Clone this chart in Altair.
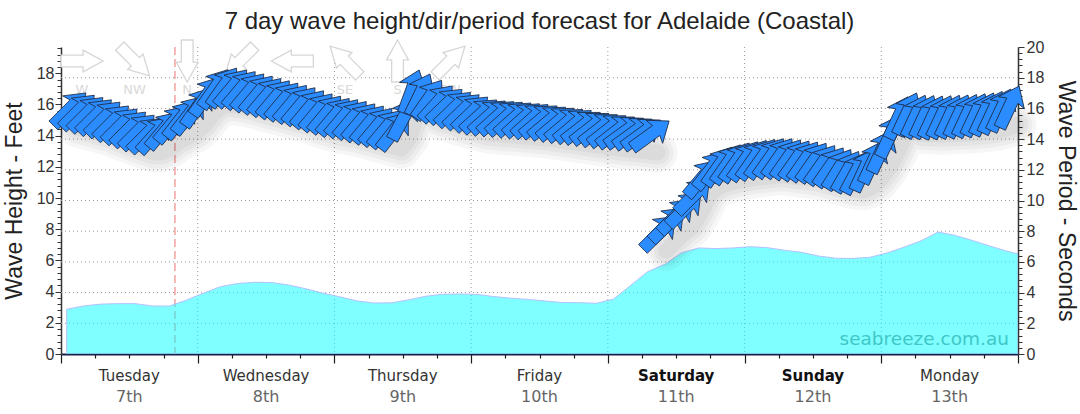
import altair as alt
import pandas as pd

PLOT_W, PLOT_H = 957, 307
FONT = "Liberation Sans"
LABEL_FONT = "DejaVu Sans"

CHART_TITLE = "7 day wave height/dir/period forecast for Adelaide (Coastal)"

# ---- x axis: hours since Tuesday 00:00 ----
day_names = ["Tuesday", "Wednesday", "Thursday", "Friday", "Saturday", "Sunday", "Monday"]
day_dates = ["7th", "8th", "9th", "10th", "11th", "12th", "13th"]
day_bold = [False, False, False, False, True, True, False]
day_noon_hours = [12, 36, 60, 84, 108, 132, 156]
day_boundaries = [24, 48, 72, 96, 120, 144]
now_hour = 20

# ---- wave height (feet), 3-hourly ----
height_hours = [1, 4, 7, 10, 13, 16, 19, 22, 25, 28,
                31, 34, 37, 40, 43, 46, 49, 52, 55, 58,
                61, 64, 67, 70, 73, 76, 79, 82, 85, 88,
                91, 94, 97, 100, 103, 106, 109, 112, 115, 118,
                121, 124, 127, 130, 133, 136, 139, 142, 145, 148,
                151, 154, 157, 160, 163, 166, 168]
height_ft = [2.87, 3.08, 3.20, 3.23, 3.23, 3.08, 3.07, 3.45, 3.90, 4.32,
             4.52, 4.60, 4.58, 4.42, 4.18, 3.90, 3.66, 3.40, 3.27, 3.28,
             3.47, 3.70, 3.83, 3.85, 3.82, 3.68, 3.58, 3.50, 3.40, 3.30,
             3.29, 3.25, 3.52, 4.40, 5.28, 5.75, 6.50, 6.80, 6.76, 6.80,
             6.88, 6.82, 6.65, 6.52, 6.28, 6.14, 6.13, 6.20, 6.48, 6.85,
             7.26, 7.82, 7.60, 7.28, 6.93, 6.60, 6.42]

# ---- wave period (seconds) and direction (degrees, coming from), every 1.5 h ----
period_a_hours = [1.5 * k for k in range(1, 70)]
period_a_sec = [15.95, 15.8, 15.65, 15.5, 15.35, 15.1, 14.9, 14.7, 14.5, 14.3,
                14.3, 14.6, 15.0, 15.3, 15.6, 16.1, 16.8, 17.3, 17.4, 17.35,
                17.25, 17.1, 16.95, 16.8, 16.65, 16.5, 16.35, 16.2, 16.0, 15.8,
                15.65, 15.5, 15.42, 15.3, 15.15, 15.0, 14.85, 14.7, 14.55, 15.3,
                17.1, 16.9, 16.6, 16.35, 16.2, 16.0, 15.85, 15.7, 15.55, 15.48,
                15.44, 15.4, 15.35, 15.3, 15.25, 15.2, 15.12, 15.05, 14.97, 14.9,
                14.82, 14.75, 14.67, 14.6, 14.52, 14.48, 14.42, 14.36, 14.3]
dir_a = [225, 225, 225, 225, 225, 225, 225, 225, 225, 225,
         222, 220, 220, 218, 218, 215, 215, 215, 215, 220,
         220, 220, 220, 220, 220, 220, 220, 220, 220, 220,
         220, 220, 220, 220, 220, 220, 220, 220, 218, 208,
         200, 206, 215, 222, 226, 226, 226, 226, 228, 228,
         228, 228, 228, 228, 228, 230, 230, 230, 230, 230,
         232, 232, 232, 232, 232, 234, 234, 234, 234]

period_b_hours = [105 + 1.5 * k for k in range(0, 42)]
period_b_sec = [7.9, 8.45, 9.0, 9.45, 10.3, 11.45, 12.0, 12.25, 12.4, 12.52,
                12.6, 12.68, 12.75, 12.8, 12.8, 12.72, 12.65, 12.58, 12.5, 12.35,
                12.2, 12.05, 11.9, 11.82, 12.0, 12.5, 13.2, 14.2, 15.4, 15.65,
                15.5, 15.48, 15.45, 15.47, 15.5, 15.52, 15.55, 15.6, 15.65, 15.75,
                15.9, 16.1]
dir_b = [225, 225, 225, 225, 225, 220, 218, 215, 215, 215,
         215, 215, 215, 215, 215, 215, 215, 215, 215, 215,
         215, 212, 210, 208, 205, 205, 205, 205, 205, 205,
         205, 205, 205, 205, 205, 205, 205, 205, 205, 205,
         205, 205]

period_grid = [2, 4, 6, 8, 10, 12, 14, 16, 18]

# ---- direction key along the top ----
compass_labels = ["W", "NW", "N", "NE", "E", "SE", "S", "SW"]
compass_from = [270, 315, 0, 45, 90, 135, 180, 225]

# ---- frames ----
area_df = pd.DataFrame({"hour": height_hours, "feet": height_ft})
period_df = pd.concat([
    pd.DataFrame({"hour": period_a_hours, "sec": period_a_sec, "dir": dir_a, "seg": "a"}),
    pd.DataFrame({"hour": period_b_hours, "sec": period_b_sec, "dir": dir_b, "seg": "b"}),
], ignore_index=True)
days_df = pd.DataFrame({"hour": day_noon_hours, "day": day_names,
                        "date": day_dates, "bold": day_bold})
compass_df = pd.DataFrame({"idx": list(range(len(compass_labels))),
                           "label": compass_labels, "dir": compass_from})
one_row = pd.DataFrame({"k": [0]})

x_scale = alt.Scale(domain=[0, 168], nice=False, zero=False)
ft_scale = alt.Scale(domain=[0, 19.685], nice=False)
sec_scale = alt.Scale(domain=[0, 20], nice=False)
key_scale = alt.Scale(domain=[-0.4, 17.8], nice=False, zero=False)

ARROW = "M -1 -0.27 L 0.3 -0.27 L 0.2 -0.62 L 1 0 L 0.2 0.62 L 0.3 0.27 L -1 0.27 Z"
KEY_ARROW = "M -1 -0.28 L 0.05 -0.28 L 0.05 -0.52 L 1 0 L 0.05 0.52 L 0.05 0.28 L -1 0.28 Z"

minor_ft = [round(i * 0.4, 1) for i in range(0, 50)]
minor_sec = [round(i * 0.4, 1) for i in range(0, 51)]
hour_ticks = list(range(0, 169, 6))

even_label = "datum.value % 2 === 0 ? '' + datum.value : ''"
even_tick = {"condition": {"test": "datum.value % 2 === 0", "value": 6}, "value": 4}

left_axis = alt.Axis(
    orient="left", values=minor_ft, labelExpr=even_label, labelOverlap=False,
    labelFont=FONT, labelFontSize=16, labelColor="#333", labelPadding=1,
    tickColor="#333", tickSize=even_tick, domainColor="#333", domainWidth=1.5,
    grid=False, title="Wave Height - Feet", titleFont=FONT, titleFontSize=23,
    titleFontWeight="normal", titleColor="#222", titleAngle=270, titleX=-47,
    titleY=PLOT_H / 2, titleAlign="center", titleBaseline="middle")

right_axis = alt.Axis(
    orient="right", values=minor_sec, labelExpr=even_label, labelOverlap=False,
    labelFont=FONT, labelFontSize=16, labelColor="#333", labelPadding=2,
    tickColor="#333", tickSize=even_tick, domainColor="#333", domainWidth=1.5,
    grid=False, title="Wave Period - Seconds", titleFont=FONT, titleFontSize=23,
    titleFontWeight="normal", titleColor="#222", titleAngle=90, titleX=47,
    titleY=PLOT_H / 2, titleAlign="center", titleBaseline="middle")

bottom_axis = alt.Axis(
    values=hour_ticks, labels=False, title=None, grid=False,
    domainColor="#17224a", domainWidth=2, tickColor="#1b1b1b", tickWidth=1.2,
    tickSize={"condition": {"test": "datum.value % 24 === 0", "value": 9}, "value": 4})

# dotted grid: midnights and every 2 s of period
vgrid = alt.Chart(pd.DataFrame({"hour": day_boundaries})).mark_rule(
    color="#999", strokeDash=[1, 3], strokeWidth=1
).encode(x=alt.X("hour:Q", scale=x_scale, axis=None))

hgrid = alt.Chart(pd.DataFrame({"sec": period_grid})).mark_rule(
    color="#999", strokeDash=[1, 3], strokeWidth=1
).encode(y=alt.Y("sec:Q", scale=sec_scale, axis=None))

now_rule = alt.Chart(pd.DataFrame({"hour": [now_hour]})).mark_rule(
    color="#f3a0a0", strokeDash=[8, 4], strokeWidth=1.5
).encode(x=alt.X("hour:Q", scale=x_scale, axis=None))

area = alt.Chart(area_df).mark_area(
    fill="#00ffff", fillOpacity=0.5, stroke="#b4c0ff", strokeWidth=1, clip=True
).encode(
    x=alt.X("hour:Q", scale=x_scale, axis=bottom_axis),
    y=alt.Y("feet:Q", scale=ft_scale, axis=left_axis),
)

watermark = alt.Chart(one_row).mark_text(
    text="seabreeze.com.au", font=LABEL_FONT, fontSize=18.5, align="right",
    baseline="alphabetic", color="#0a9a9a", opacity=0.55
).encode(x=alt.value(PLOT_W - 9), y=alt.value(PLOT_H - 9))

key_arrows = alt.Chart(compass_df).transform_calculate(
    ang="(datum.dir + 90) % 360"
).mark_point(
    shape=KEY_ARROW, size=1764, filled=True, fill="white", stroke="#d6d6d6",
    strokeWidth=1.3, opacity=1
).encode(
    x=alt.X("idx:Q", scale=key_scale, axis=None),
    y=alt.value(14),
    angle=alt.Angle("ang:Q", scale=None),
)

key_text = alt.Chart(compass_df).mark_text(
    font=LABEL_FONT, fontSize=13, color="#d9d9d9", baseline="middle"
).encode(
    x=alt.X("idx:Q", scale=key_scale, axis=None),
    y=alt.value(43),
    text="label:N",
)

# soft drop shadow under the direction arrows
shadows = [
    alt.Chart(period_df).mark_line(
        color="#000", opacity=0.035, strokeWidth=w, strokeCap="round",
        strokeJoin="round", xOffset=7, yOffset=18
    ).encode(
        x=alt.X("hour:Q", scale=x_scale, axis=None),
        y=alt.Y("sec:Q", scale=sec_scale, axis=None),
        detail="seg:N",
    )
    for w in (40, 32, 24, 16)
]

arrows = alt.Chart(period_df).transform_calculate(
    ang="(datum.dir + 90) % 360"
).mark_point(
    shape=ARROW, size=2100, filled=True, fill="#2b8cff", stroke="#1d2a44",
    strokeWidth=0.8, opacity=1
).encode(
    x=alt.X("hour:Q", scale=x_scale, axis=None),
    y=alt.Y("sec:Q", scale=sec_scale, axis=right_axis),
    angle=alt.Angle("ang:Q", scale=None),
)

day_plain = alt.Chart(days_df).transform_filter("!datum.bold").mark_text(
    font=LABEL_FONT, fontSize=15, color="#333", baseline="middle"
).encode(x=alt.X("hour:Q", scale=x_scale, axis=None), y=alt.value(PLOT_H + 22), text="day:N")

day_heavy = alt.Chart(days_df).transform_filter("datum.bold").mark_text(
    font=LABEL_FONT, fontSize=15, fontWeight="bold", color="#111", baseline="middle"
).encode(x=alt.X("hour:Q", scale=x_scale, axis=None), y=alt.value(PLOT_H + 22), text="day:N")

date_text = alt.Chart(days_df).mark_text(
    font=LABEL_FONT, fontSize=16, color="#666", baseline="middle"
).encode(x=alt.X("hour:Q", scale=x_scale, axis=None), y=alt.value(PLOT_H + 43), text="date:N")

title_text = alt.Chart(one_row).mark_text(
    text=CHART_TITLE, font=FONT, fontSize=24, color="#222", align="center",
    baseline="alphabetic"
).encode(x=alt.value(PLOT_W / 2), y=alt.value(-18))

chart = alt.layer(
    vgrid, hgrid, now_rule, area, watermark, key_arrows, key_text,
    *shadows, arrows, day_plain, day_heavy, date_text, title_text
).resolve_scale(
    x="independent", y="independent"
).properties(
    width=PLOT_W, height=PLOT_H,
    padding={"left": 61, "top": 47, "right": 62, "bottom": 60},
    autosize=alt.AutoSizeParams(type="none"),
    background="white",
).configure_view(strokeWidth=0)

chart.save("out.html", embed_options={"renderer": "svg", "actions": False})
